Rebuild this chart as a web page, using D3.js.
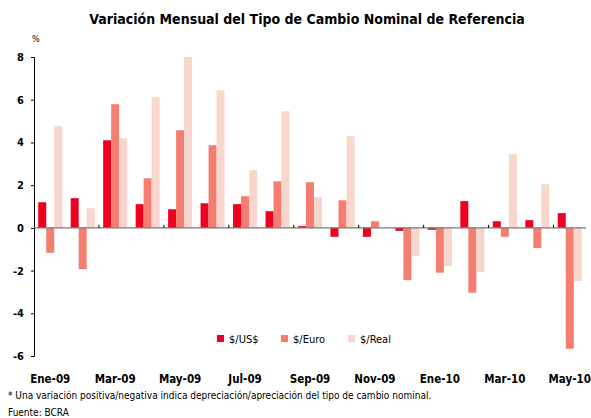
<!DOCTYPE html>
<html>
<head>
<meta charset="utf-8">
<script src="https://cdn.jsdelivr.net/npm/d3@7"></script>
<style>
  body { margin: 0; background: #fff; }
  text { font-family: Tahoma, "DejaVu Sans Condensed", "DejaVu Sans", sans-serif; }
</style>
</head>
<body>
<div id="chart"></div>
<script>
// Data
const months = ['Ene-09', 'Feb-09', 'Mar-09', 'Abr-09', 'May-09', 'Jun-09', 'Jul-09', 'Ago-09', 'Sep-09',
  'Oct-09', 'Nov-09', 'Dic-09', 'Ene-10', 'Feb-10', 'Mar-10', 'Abr-10', 'May-10'];
const usd  = [1.20, 1.39, 4.10, 1.11, 0.87, 1.15, 1.11, 0.78, 0.08, -0.42, -0.42, -0.14, -0.09, 1.25, 0.31, 0.36, 0.69];
const euro = [-1.17, -1.93, 5.79, 2.32, 4.57, 3.87, 1.48, 2.18, 2.14, 1.29, 0.31, -2.45, -2.10, -3.04, -0.42, -0.95, -5.66];
const real = [4.76, 0.92, 4.20, 6.12, 8.00, 6.44, 2.70, 5.46, 1.44, 4.29, 0.00, -1.32, -1.79, -2.06, 3.45, 2.04, -2.49];
const seriesNames = ['$/US$', '$/Euro', '$/Real'];
const yTicks = [-6, -4, -2, 0, 2, 4, 6, 8];

const colors = ['#ee001f', '#f47f70', '#f9d6cd'];
const series = [usd, euro, real];

const width = 591, height = 418;
const margin = { top: 57, left: 34, right: 5, bottom: 62 };

const svg = d3.select('#chart').append('svg')
  .attr('width', width)
  .attr('height', height);

const x = d3.scaleBand()
  .domain(months)
  .range([margin.left, width - margin.right])
  .paddingInner(0.26)
  .paddingOuter(0.13);

const xs = d3.scaleBand()
  .domain(seriesNames)
  .range([0, x.bandwidth()]);

const y = d3.scaleLinear()
  .domain([-6, 8])
  .range([height - margin.bottom, margin.top]);

// Title
svg.append('text')
  .attr('x', 307)
  .attr('y', 24)
  .attr('text-anchor', 'middle')
  .style('font-size', '14px')
  .style('font-weight', 'bold')
  .text('Variación Mensual del Tipo de Cambio Nominal de Referencia');

svg.append('text')
  .attr('x', 32)
  .attr('y', 42)
  .style('font-size', '9px')
  .text('%');

// Bars
const rows = months.map((m, i) => ({ month: m, values: series.map((s, j) => ({ name: seriesNames[j], v: s[i], c: colors[j] })) }));

svg.append('g').selectAll('g')
  .data(rows)
  .join('g')
    .attr('transform', d => `translate(${x(d.month)},0)`)
  .selectAll('rect')
  .data(d => d.values)
  .join('rect')
    .attr('x', d => xs(d.name))
    .attr('width', xs.bandwidth())
    .attr('y', d => y(Math.max(0, d.v)))
    .attr('height', d => Math.abs(y(d.v) - y(0)))
    .attr('fill', d => d.c);

// Y axis (plain hyphen for negatives, as in the source)
const yAxis = svg.append('g')
  .attr('transform', `translate(${margin.left},0)`)
  .call(d3.axisLeft(y).tickValues(yTicks).tickSize(3).tickFormat(d => String(d)));
yAxis.select('.domain').attr('stroke', '#000');
yAxis.selectAll('text')
  .attr('x', -10)
  .style('font-size', '11px')
  .style('font-weight', 'bold');

// Zero line with ticks between every second month
const step = x.step();
const tickPos = d3.range(2, months.length + 1, 2).map(i => margin.left + x.paddingOuter() * step - x.paddingInner() * step / 2 + i * step);
svg.append('line')
  .attr('x1', margin.left)
  .attr('x2', width - margin.right)
  .attr('y1', y(0))
  .attr('y2', y(0))
  .attr('stroke', '#777')
  .attr('stroke-width', 1.2);
svg.append('g').selectAll('line')
  .data(tickPos)
  .join('line')
    .attr('x1', d => d)
    .attr('x2', d => d)
    .attr('y1', y(0))
    .attr('y2', y(0) - 3)
    .attr('stroke', '#000');

// X labels every second month
svg.append('g').selectAll('text')
  .data(months.filter((m, i) => i % 2 === 0))
  .join('text')
    .attr('x', d => x(d) + x.bandwidth() / 2)
    .attr('y', 383)
    .attr('text-anchor', 'middle')
    .style('font-size', '11.5px')
    .style('font-weight', 'bold')
    .text(d => d);

// Legend
const legendX = [217, 281, 348];
const legend = svg.append('g').selectAll('g')
  .data(seriesNames)
  .join('g')
    .attr('transform', (d, i) => `translate(${legendX[i]},335)`);
legend.append('rect')
  .attr('width', 7)
  .attr('height', 7)
  .attr('fill', (d, i) => colors[i]);
legend.append('text')
  .attr('x', 12)
  .attr('y', 8)
  .style('font-size', '11px')
  .text(d => d);

// Footnotes
svg.append('text')
  .attr('x', 8)
  .attr('y', 399)
  .style('font-size', '10px')
  .text('* Una variación positiva/negativa indica depreciación/apreciación del tipo de cambio nominal.');
svg.append('text')
  .attr('x', 8)
  .attr('y', 416)
  .style('font-size', '10px')
  .text('Fuente: BCRA');
</script>
</body>
</html>
